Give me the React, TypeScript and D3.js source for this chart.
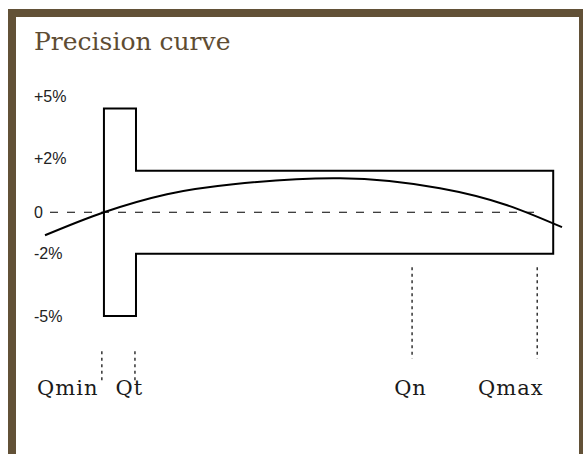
import React, { useEffect, useRef } from 'react';
import * as d3 from 'd3';

// flow on a 0..100 relative scale, error in percent
const curveFlow = [0, 11.4, 23.6, 36.4, 57.1, 76.4, 89.4, 100];
const curveError = [-1.11, 0, 0.87, 1.35, 1.64, 1.16, 0.34, -0.72];

// maximum permissible error envelope
const envFlow = [11.4, 17.6, 98.3];
const envLimit = [5, 2];

const tickValues = [5, 2, 0, -2, -5];
const tickLabels = ['+5%', '+2%', '0', '-2%', '-5%'];

const qNames = ['Qmin', 'Qt', 'Qn', 'Qmax'];
const qFlow = [11.0, 17.4, 71.0, 95.2];
const qLabelFlow = [4.4, 16.3, 70.7, 90.1];

const W = 583;
const H = 454;
const frameColor = '#625137';

export default function App() {
  const ref = useRef<SVGSVGElement | null>(null);

  useEffect(() => {
    const svg = d3.select(ref.current);
    svg.selectAll('*').remove();

    const x = d3.scaleLinear().domain([0, 100]).range([45, 562]);
    const y = d3.scaleLinear().domain([-5, 5]).range([316, 108.5]);

    // frame
    svg.append('rect')
      .attr('x', 12).attr('y', 13)
      .attr('width', 571).attr('height', 520)
      .attr('fill', '#fff')
      .attr('stroke', frameColor)
      .attr('stroke-width', 8);

    svg.append('text')
      .attr('x', 34).attr('y', 50)
      .attr('fill', '#5e4c33')
      .attr('font-family', 'DejaVu Serif')
      .attr('font-size', 25)
      .text('Precision curve');

    // y labels
    svg.append('g').selectAll('text')
      .data(tickValues)
      .enter().append('text')
      .attr('x', 34)
      .attr('y', d => y(d) + (d > 0 ? -12 : 0))
      .attr('dy', '0.35em')
      .attr('fill', '#222')
      .attr('font-family', 'Liberation Sans, Arial, sans-serif')
      .attr('font-size', 16)
      .text((d, i) => tickLabels[i]);

    // zero line
    svg.append('line')
      .attr('x1', 50).attr('x2', x(96))
      .attr('y1', y(0)).attr('y2', y(0))
      .attr('stroke', '#000')
      .attr('stroke-width', 1.2)
      .attr('stroke-dasharray', '8 9');

    // envelope (T shape)
    const [a, b, c] = envFlow;
    const [hi, lo] = envLimit;
    const env: [number, number][] = [
      [a, hi], [b, hi], [b, lo], [c, lo], [c, -lo], [b, -lo], [b, -hi], [a, -hi]
    ];
    svg.append('path')
      .attr('d', d3.line<[number, number]>().x(d => x(d[0])).y(d => y(d[1]))(env) + 'Z')
      .attr('fill', 'none')
      .attr('stroke', '#000')
      .attr('stroke-width', 2);

    // precision curve
    const pts = curveFlow.map((f, i) => [f, curveError[i]] as [number, number]);
    svg.append('path')
      .attr('d', d3.line<[number, number]>()
        .x(d => x(d[0])).y(d => y(d[1]))
        .curve(d3.curveNatural)(pts))
      .attr('fill', 'none')
      .attr('stroke', '#000')
      .attr('stroke-width', 2);

    // flow markers
    svg.append('g').selectAll('line')
      .data(qFlow)
      .enter().append('line')
      .attr('x1', d => x(d)).attr('x2', d => x(d))
      .attr('y1', (d, i) => (i < 2 ? y(-6.7) : y(-2.65)))
      .attr('y2', (d, i) => (i < 2 ? y(-8.1) : y(-7.05)))
      .attr('stroke', '#000')
      .attr('stroke-width', 1.2)
      .attr('stroke-dasharray', '3 3.5');

    svg.append('g').selectAll('text')
      .data(qNames)
      .enter().append('text')
      .attr('x', (d, i) => x(qLabelFlow[i]))
      .attr('y', 395)
      .attr('text-anchor', 'middle')
      .attr('fill', '#1a1a1a')
      .attr('font-family', 'DejaVu Serif')
      .attr('font-size', 21)
      .attr('letter-spacing', 1)
      .text(d => d);
  }, []);

  return (
    <svg
      ref={ref}
      width={W}
      height={H}
      style={{ position: 'absolute', left: 0, top: 0 }}
    />
  );
}
